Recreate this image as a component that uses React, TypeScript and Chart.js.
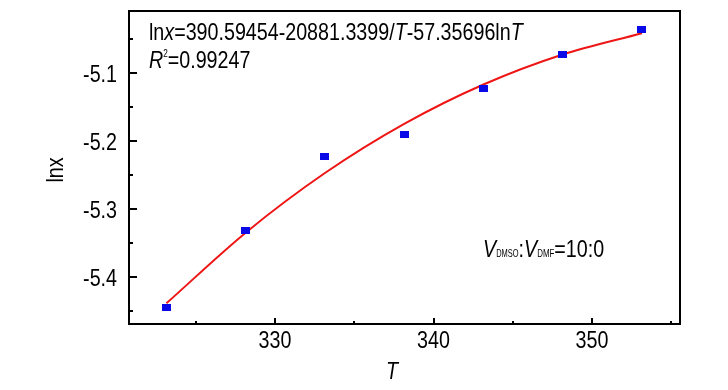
import React, { useEffect, useRef } from "react";
import { Chart, registerables } from "chart.js";

Chart.register(...registerables);

const temperatures = [323.15, 328.15, 333.15, 338.15, 343.15, 348.15, 353.15];
const lnxValues = [-5.445, -5.332, -5.2225, -5.19, -5.1235, -5.0731, -5.0357];
const fitValues = [-5.4387, -5.3348, -5.2471, -5.1748, -5.1169, -5.0727, -5.0414];
const xTickValues = [330, 340, 350];
const xMinorTicks = [325, 335, 345, 355];
const yTickValues = [-5.4, -5.3, -5.2, -5.1];
const yMinorTicks = [-5.45, -5.35, -5.25, -5.15, -5.05];

const FAMILY = '"Liberation Sans", Arial, sans-serif';
const SX = 0.82;

type Run = { t: string; italic?: boolean; size?: number; dy?: number; sx?: number };

function setFont(ctx: CanvasRenderingContext2D, r: Run, base: number) {
  ctx.font = `${r.italic ? "italic " : ""}${r.size ?? base}px ${FAMILY}`;
}

function runsWidth(ctx: CanvasRenderingContext2D, runs: Run[], base: number) {
  let w = 0;
  for (const r of runs) {
    setFont(ctx, r, base);
    w += ctx.measureText(r.t).width * ((r.sx ?? SX) / SX);
  }
  return w;
}

// draws condensed text; align: 0 = left, 0.5 = centre, 1 = right
function drawRuns(
  ctx: CanvasRenderingContext2D,
  x: number,
  y: number,
  runs: Run[],
  base: number,
  align = 0,
  rotate = 0
) {
  ctx.save();
  ctx.translate(x, y);
  if (rotate) ctx.rotate(rotate);
  ctx.scale(SX, 1);
  ctx.textAlign = "left";
  ctx.textBaseline = "alphabetic";
  const w = runsWidth(ctx, runs, base);
  let cx = -w * align;
  for (const r of runs) {
    setFont(ctx, r, base);
    const k = (r.sx ?? SX) / SX;
    ctx.save();
    ctx.translate(cx, r.dy ?? 0);
    ctx.scale(k, 1);
    ctx.fillText(r.t, 0, 0);
    ctx.restore();
    cx += ctx.measureText(r.t).width * k;
  }
  ctx.restore();
}

function makeMarker(): HTMLCanvasElement {
  const c = document.createElement("canvas");
  c.width = 9;
  c.height = 7;
  const g = c.getContext("2d")!;
  g.fillStyle = "#0a0ae8";
  g.fillRect(0, 0, 9, 7);
  return c;
}

const framePlugin = {
  id: "frame",
  afterDraw(chart: any) {
    const { ctx, chartArea } = chart;
    const { left, right, top, bottom } = chartArea;
    const xs = chart.scales.x;
    const ys = chart.scales.y;
    ctx.save();
    ctx.strokeStyle = "#000";
    ctx.lineWidth = 2;
    ctx.strokeRect(left, top, right - left, bottom - top);
    ctx.beginPath();
    for (const v of xTickValues) {
      const px = Math.round(xs.getPixelForValue(v));
      ctx.moveTo(px, bottom);
      ctx.lineTo(px, bottom - 6);
    }
    for (const v of xMinorTicks) {
      const px = Math.round(xs.getPixelForValue(v));
      ctx.moveTo(px, bottom);
      ctx.lineTo(px, bottom - 3);
    }
    for (const v of yTickValues) {
      const py = Math.round(ys.getPixelForValue(v));
      ctx.moveTo(left, py);
      ctx.lineTo(left + 8, py);
    }
    for (const v of yMinorTicks) {
      const py = Math.round(ys.getPixelForValue(v));
      ctx.moveTo(left, py);
      ctx.lineTo(left + 4, py);
    }
    ctx.stroke();

    ctx.fillStyle = "#000";
    // tick labels
    for (const v of xTickValues) {
      drawRuns(ctx, xs.getPixelForValue(v), bottom + 24, [{ t: String(v) }], 24, 0.5);
    }
    for (const v of yTickValues) {
      drawRuns(ctx, left - 12, ys.getPixelForValue(v) + 9, [{ t: v.toFixed(1) }], 24, 1);
    }

    drawRuns(ctx, 149, 40, [
      { t: "ln" },
      { t: "x", italic: true },
      { t: "=390.59454-20881.3399/" },
      { t: "T", italic: true },
      { t: "-57.35696ln" },
      { t: "T", italic: true },
    ], 24);
    drawRuns(ctx, 149, 68, [
      { t: "R", italic: true },
      { t: "2", size: 10, dy: -11 },
      { t: "=0.99247" },
    ], 24);
    drawRuns(ctx, 483, 257, [
      { t: "V", italic: true },
      { t: "DMSO", size: 11, sx: 0.68 },
      { t: ":" },
      { t: "V", italic: true },
      { t: "DMF", size: 11, sx: 0.72 },
      { t: "=10:0" },
    ], 24);

    drawRuns(ctx, 392, 379, [{ t: "T", italic: true }], 24, 0.5);
    drawRuns(ctx, 63, 170, [{ t: "lnx" }], 24, 0.5, -Math.PI / 2);
    ctx.restore();
  },
};

export default function App() {
  const ref = useRef<HTMLCanvasElement | null>(null);
  useEffect(() => {
    document.body.style.margin = "0";
    const canvas = ref.current!;
    const marker = makeMarker();
    const chart = new Chart(canvas, {
      type: "line",
      data: {
        datasets: [
          {
            label: "data",
            data: temperatures.map((t, i) => ({ x: t, y: lnxValues[i] })),
            showLine: false,
            pointStyle: marker as any,
            pointRadius: 5,
            borderColor: "#0a0ae8",
            backgroundColor: "#0a0ae8",
          },
          {
            label: "fit",
            data: temperatures.map((t, i) => ({ x: t, y: fitValues[i] })),
            borderColor: "#ee1515",
            borderWidth: 2,
            pointRadius: 0,
            cubicInterpolationMode: "monotone",
            fill: false,
          },
        ],
      },
      options: {
        responsive: false,
        animation: false,
        layout: { padding: { top: 11, right: 48, left: 0, bottom: 0 } },
        plugins: { legend: { display: false }, tooltip: { enabled: false } },
        scales: {
          x: {
            type: "linear",
            min: 320.79,
            max: 355.55,
            afterBuildTicks: (s: any) => {
              s.ticks = xTickValues.map((v) => ({ value: v }));
            },
            afterFit: (s: any) => {
              s.height = 66;
              s.paddingLeft = 0;
              s.paddingRight = 0;
            },
            grid: { display: false, drawTicks: false },
            border: { display: false },
            ticks: { display: false },
          },
          y: {
            type: "linear",
            min: -5.4691,
            max: -5.0088,
            afterBuildTicks: (s: any) => {
              s.ticks = yTickValues.map((v) => ({ value: v }));
            },
            afterFit: (s: any) => {
              s.width = 129;
              s.paddingTop = 0;
              s.paddingBottom = 0;
            },
            grid: { display: false, drawTicks: false },
            border: { display: false },
            ticks: { display: false },
          },
        },
      },
      plugins: [framePlugin],
    } as any);
    return () => chart.destroy();
  }, []);
  return <canvas ref={ref} width={728} height={390} style={{ display: "block" }} />;
}
